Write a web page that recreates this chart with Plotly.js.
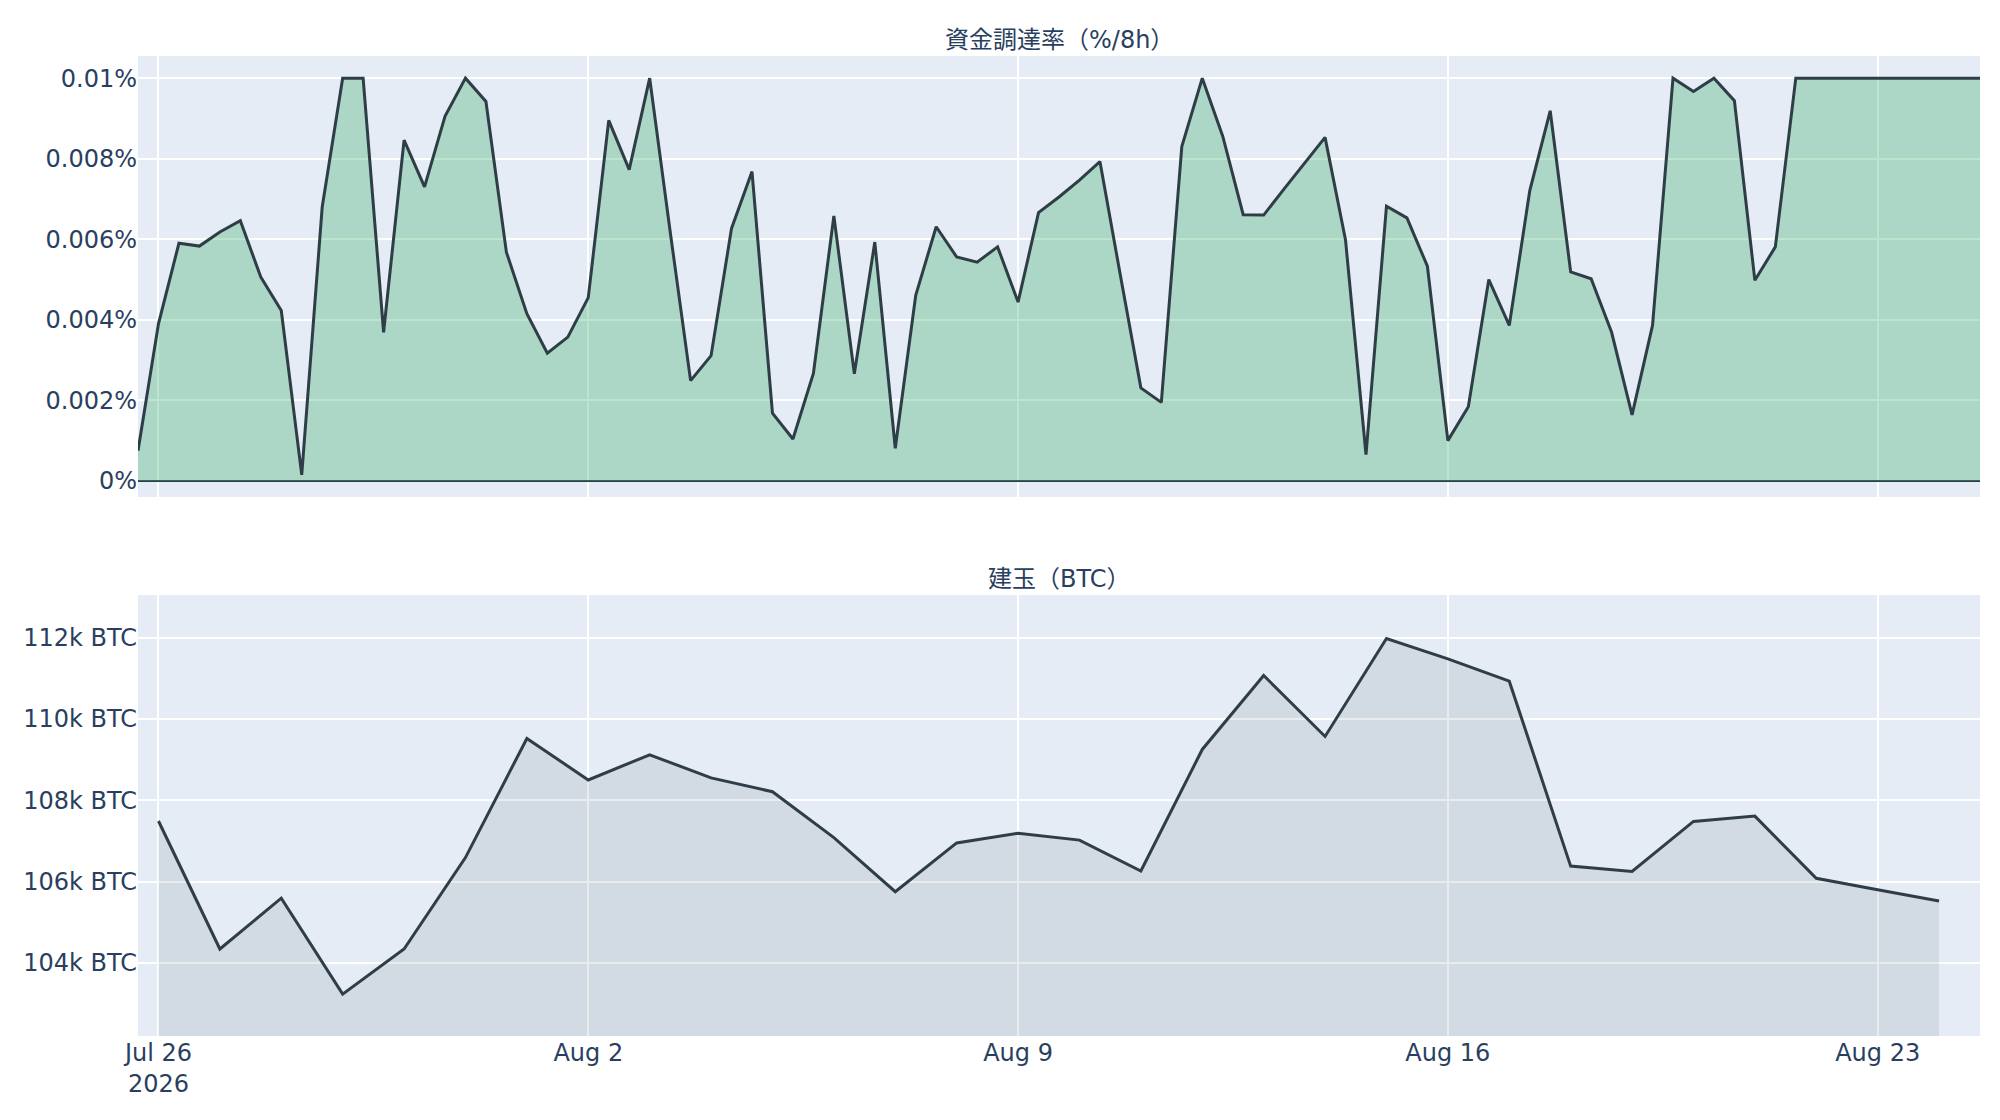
<!DOCTYPE html>
<html>
<head>
<meta charset="utf-8">
<script src="https://cdn.plot.ly/plotly-3.0.1.min.js"></script>
<style>
  html, body { margin: 0; padding: 0; background: #fff; }
  #chart { width: 2000px; height: 1120px; }
</style>
</head>
<body>
<div id="chart"></div>
<script>
// funding rate, one value every 8h, starting Jul 25 16:00
var fundingStart = '2026-07-25T16:00:00';
var fundingStepHours = 8;
var fundingRate = [
    0.00075, 0.0039, 0.0059, 0.00583, 0.00618, 0.00646, 0.00506, 0.00423, 0.00015, 0.0068,
    0.01, 0.01, 0.00369, 0.00846, 0.0073, 0.00905, 0.01, 0.00942, 0.00568, 0.00415,
    0.00317, 0.00357, 0.00455, 0.00895, 0.00773, 0.01, 0.0062, 0.00249, 0.00311, 0.00627,
    0.00768, 0.00168, 0.00104, 0.00267, 0.00658, 0.00266, 0.00593, 0.00081, 0.00461, 0.00631,
    0.00556, 0.00543, 0.00581, 0.00444, 0.00666, 0.00705, 0.00747, 0.00793, 0.0051, 0.00231,
    0.00195, 0.0083, 0.01, 0.00856, 0.00661, 0.0066, 0.00725, 0.00788, 0.00853, 0.00598,
    0.00065, 0.00682, 0.00653, 0.00533, 0.001, 0.00184, 0.005, 0.00386, 0.0072, 0.00919,
    0.00519, 0.00502, 0.00369, 0.00164, 0.00386, 0.01, 0.00967, 0.01, 0.00944, 0.00498,
    0.00581, 0.01, 0.01, 0.01, 0.01, 0.01, 0.01, 0.01, 0.01, 0.01,
    0.01
];

// open interest, daily
var oiDates = [
    '2026-07-26', '2026-07-27', '2026-07-28', '2026-07-29', '2026-07-30',
    '2026-07-31', '2026-08-01', '2026-08-02', '2026-08-03', '2026-08-04',
    '2026-08-05', '2026-08-06', '2026-08-07', '2026-08-08', '2026-08-09',
    '2026-08-10', '2026-08-11', '2026-08-12', '2026-08-13', '2026-08-14',
    '2026-08-15', '2026-08-16', '2026-08-17', '2026-08-18', '2026-08-19',
    '2026-08-20', '2026-08-21', '2026-08-22', '2026-08-23', '2026-08-24'
];
var openInterest = [
    107490, 104340, 105590, 103230, 104340, 106590, 109520, 108500, 109120, 108550,
    108210, 107080, 105750, 106950, 107190, 107020, 106260, 109250, 111070, 109570,
    111980, 111480, 110930, 106380, 106250, 107480, 107610, 106080, 105800, 105520
];

var titleFunding = '資金調達率（%/8h）';
var titleOI = '建玉（BTC）';

var lineColor = '#2f3e46';
var fontFamily = '"DejaVu Sans", "Noto Sans CJK JP", sans-serif';
var fontSize = 24;

function buildFundingTimes() {
    let t0 = new Date( fundingStart + 'Z' ).getTime();
    let times = [];
    for ( let i = 0; i < fundingRate.length; ++i ) {
        let d = new Date( t0 + i * fundingStepHours * 3600 * 1000 );
        times.push( d.toISOString().slice( 0, 19 ).replace( 'T', ' ' ) );
    }
    return times;
}

var fundingTimes = buildFundingTimes();

var fundingTrace = {
    x: fundingTimes,
    y: fundingRate,
    type: 'scatter',
    mode: 'lines',
    fill: 'tozeroy',
    fillcolor: 'rgba(66,179,109,0.35)',
    line: { color: lineColor, width: 3 },
    xaxis: 'x',
    yaxis: 'y',
    hoverinfo: 'x+y'
};

var oiTrace = {
    x: oiDates,
    y: openInterest,
    type: 'scatter',
    mode: 'lines',
    fill: 'tozeroy',
    fillcolor: 'rgba(47,62,70,0.1)',
    line: { color: lineColor, width: 3 },
    xaxis: 'x2',
    yaxis: 'y2',
    hoverinfo: 'x+y'
};

var axisCommon = {
    gridcolor: 'white',
    gridwidth: 2,
    showline: false,
    ticks: '',
    tickfont: { size: fontSize, color: '#2a3f5f', family: fontFamily },
    automargin: false
};

var xRange = [ fundingTimes[ 0 ], fundingTimes[ fundingTimes.length - 1 ] ];

var layout = {
    width: 2000,
    height: 1120,
    margin: { l: 138, r: 20, t: 56, b: 84 },
    paper_bgcolor: 'white',
    plot_bgcolor: '#E5ECF6',
    showlegend: false,
    font: { family: fontFamily, size: fontSize, color: '#2a3f5f' },
    xaxis: Object.assign( {}, axisCommon, {
        domain: [ 0, 1 ],
        anchor: 'y',
        matches: 'x2',
        type: 'date',
        range: xRange,
        showticklabels: false
    }),
    yaxis: Object.assign( {}, axisCommon, {
        domain: [ 0.55, 1 ],
        anchor: 'x',
        range: [ -0.0004, 0.01055 ],
        dtick: 0.002,
        ticksuffix: '%',
        zeroline: true,
        zerolinecolor: lineColor,
        zerolinewidth: 2.5
    }),
    xaxis2: Object.assign( {}, axisCommon, {
        domain: [ 0, 1 ],
        anchor: 'y2',
        type: 'date',
        range: xRange
    }),
    yaxis2: Object.assign( {}, axisCommon, {
        domain: [ 0, 0.45 ],
        anchor: 'x2',
        range: [ 102200, 113050 ],
        dtick: 2000,
        ticksuffix: ' BTC',
        zeroline: false
    }),
    annotations: [
        {
            text: titleFunding,
            xref: 'paper', yref: 'paper',
            x: 0.5, y: 1,
            xanchor: 'center', yanchor: 'bottom',
            showarrow: false,
            font: { size: fontSize, color: '#2a3f5f', family: fontFamily }
        },
        {
            text: titleOI,
            xref: 'paper', yref: 'paper',
            x: 0.5, y: 0.45,
            xanchor: 'center', yanchor: 'bottom',
            showarrow: false,
            font: { size: fontSize, color: '#2a3f5f', family: fontFamily }
        }
    ]
};

Plotly.newPlot( 'chart', [ fundingTrace, oiTrace ], layout, { displayModeBar: false, staticPlot: true } );
</script>
</body>
</html>
